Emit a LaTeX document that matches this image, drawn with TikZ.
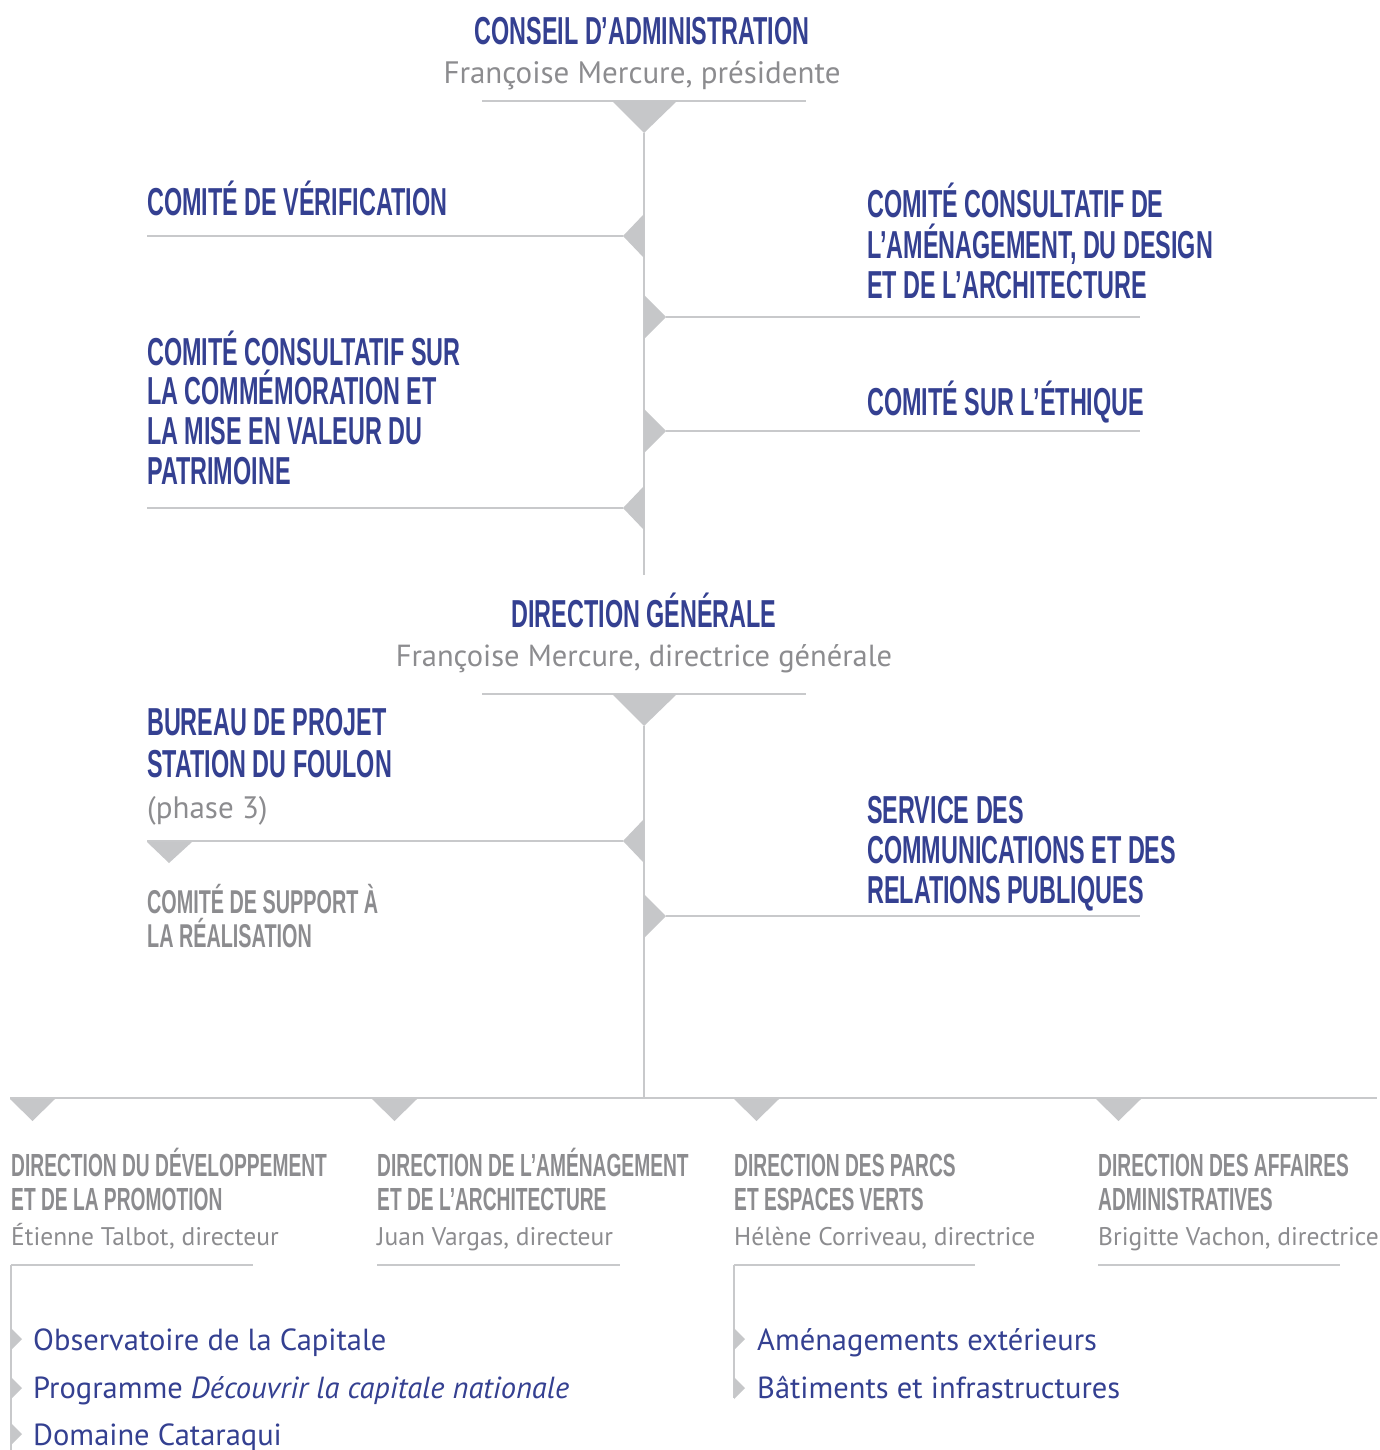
\documentclass[tikz,border=0pt]{standalone}
\usepackage{fontspec}
\newfontfamily\headfont[FakeStretch=0.6]{Liberation Sans}
\newfontfamily\bodyfont{PT Sans}
\definecolor{navy}{RGB}{52,64,145}
\definecolor{txtgray}{RGB}{140,140,143}
\definecolor{linegray}{RGB}{200,201,203}
\definecolor{trigray}{RGB}{198,199,201}
\begin{document}
\begin{tikzpicture}[x=1pt,y=-1pt,
  hdnode/.style={inner sep=0pt, anchor=base west, text=navy, font=\headfont\bfseries\fontsize{39}{42}\selectfont},
  hdcenter/.style={hdnode, anchor=base},
  gsubnode/.style={inner sep=0pt, anchor=base west, text=txtgray, font=\headfont\bfseries\fontsize{32}{34}\selectfont},
  gsubbig/.style={gsubnode, font=\headfont\bfseries\fontsize{33}{35}\selectfont},
  bodytxt/.style={inner sep=0pt, anchor=base west, text=txtgray, font=\bodyfont\fontsize{31}{34}\selectfont},
  bodycenter/.style={bodytxt, anchor=base},
  bodycenter2/.style={bodycenter, font=\bodyfont\fontsize{30.5}{34}\selectfont},
  persname/.style={bodytxt, font=\bodyfont\fontsize{25.5}{30}\selectfont},
  itemtxt/.style={inner sep=0pt, anchor=base west, text=navy, font=\bodyfont\fontsize{30.5}{34}\selectfont},
  ruleline/.style={draw=linegray, line width=1.3pt},
  trifill/.style={fill=trigray}]
\useasboundingbox (0,0) rectangle (1379,1450);

% ---------- Conseil d'administration ----------
\node[hdcenter] (ca) at (642,45) {CONSEIL D’ADMINISTRATION};
\node[bodycenter] (caname) at (642,84) {Françoise Mercure, présidente};
\coordinate (caL) at (482,101);
\coordinate (caR) at (806,101);
\coordinate (caTip) at (644,133);
\draw[ruleline] (caL) -- (caR);
\fill[trifill] (612,101) -- (677,101) -- (caTip) -- cycle;
\coordinate (trunkA) at (644,575);
\draw[ruleline] (caTip) -- (trunkA);

% left committees
\node[hdnode] (verif) at (147,215) {COMITÉ DE VÉRIFICATION};
\coordinate (verifL) at (147,236);
\coordinate (verifT) at (623,236);
\draw[ruleline] (verifL) -- (verifT);
\fill[trifill] (644,214) -- (verifT) -- (644,258) -- cycle;

\node[hdnode] (patr1) at (147,365) {COMITÉ CONSULTATIF SUR};
\node[hdnode] (patr2) at (147,404) {LA COMMÉMORATION ET};
\node[hdnode] (patr3) at (147,444) {LA MISE EN VALEUR DU};
\node[hdnode] (patr4) at (147,484) {PATRIMOINE};
\coordinate (patrL) at (147,508);
\coordinate (patrT) at (623,508);
\draw[ruleline] (patrL) -- (patrT);
\fill[trifill] (644,486) -- (patrT) -- (644,530) -- cycle;

% right committees
\node[hdnode] (amen1) at (867,218) {COMITÉ CONSULTATIF DE};
\node[hdnode] (amen2) at (867,258) {L’AMÉNAGEMENT, DU DESIGN};
\node[hdnode] (amen3) at (867,298) {ET DE L’ARCHITECTURE};
\coordinate (amenT) at (666,317);
\coordinate (amenR) at (1140,317);
\draw[ruleline] (amenT) -- (amenR);
\fill[trifill] (644,295) -- (amenT) -- (644,339) -- cycle;

\node[hdnode] (ethi) at (867,415) {COMITÉ SUR L’ÉTHIQUE};
\coordinate (ethiT) at (666,431);
\coordinate (ethiR) at (1140,431);
\draw[ruleline] (ethiT) -- (ethiR);
\fill[trifill] (644,409) -- (ethiT) -- (644,453) -- cycle;

% ---------- Direction generale ----------
\node[hdcenter] (dg) at (644,627) {DIRECTION GÉNÉRALE};
\node[bodycenter2] (dgname) at (644,666) {Françoise Mercure, directrice générale};
\coordinate (dgL) at (482,694);
\coordinate (dgR) at (806,694);
\coordinate (dgTip) at (644,726);
\draw[ruleline] (dgL) -- (dgR);
\fill[trifill] (612,694) -- (677,694) -- (dgTip) -- cycle;
\coordinate (trunkB) at (644,1098);
\draw[ruleline] (dgTip) -- (trunkB);

\node[hdnode] (bur1) at (147,735) {BUREAU DE PROJET};
\node[hdnode] (bur2) at (147,777) {STATION DU FOULON};
\node[bodytxt] (bur3) at (147,818) {(phase 3)};
\coordinate (burL) at (147,841);
\coordinate (burT) at (623,841);
\draw[ruleline] (burL) -- (burT);
\fill[trifill] (644,819) -- (burT) -- (644,863) -- cycle;
\fill[trifill] (147,842) -- (192,842) -- (169,863) -- cycle;
\node[gsubbig] (sup1) at (147,913) {COMITÉ DE SUPPORT À};
\node[gsubbig] (sup2) at (147,947) {LA RÉALISATION};

\node[hdnode] (com1) at (867,823) {SERVICE DES};
\node[hdnode] (com2) at (867,863) {COMMUNICATIONS ET DES};
\node[hdnode] (com3) at (867,903) {RELATIONS PUBLIQUES};
\coordinate (comT) at (666,916);
\coordinate (comR) at (1140,916);
\draw[ruleline] (comT) -- (comR);
\fill[trifill] (644,894) -- (comT) -- (644,938) -- cycle;

% ---------- Directions ----------
\coordinate (busL) at (10,1098);
\coordinate (busR) at (1377,1098);
\draw[ruleline] (busL) -- (busR);
\foreach \x in {10,372,734,1096}{
  \fill[trifill] (\x,1099) -- (\x+45,1099) -- (\x+22.5,1121) -- cycle;
}

\node[gsubnode] (d1a) at (11,1176) {DIRECTION DU DÉVELOPPEMENT};
\node[gsubnode] (d1b) at (11,1210) {ET DE LA PROMOTION};
\node[persname] (d1n) at (11,1245) {Étienne Talbot, directeur};

\node[gsubnode] (d2a) at (377,1176) {DIRECTION DE L’AMÉNAGEMENT};
\node[gsubnode] (d2b) at (377,1210) {ET DE L’ARCHITECTURE};
\node[persname] (d2n) at (377,1245) {Juan Vargas, directeur};

\node[gsubnode] (d3a) at (734,1176) {DIRECTION DES PARCS};
\node[gsubnode] (d3b) at (734,1210) {ET ESPACES VERTS};
\node[persname] (d3n) at (734,1245) {Hélène Corriveau, directrice};

\node[gsubnode] (d4a) at (1098,1176) {DIRECTION DES AFFAIRES};
\node[gsubnode] (d4b) at (1098,1210) {ADMINISTRATIVES};
\node[persname] (d4n) at (1098,1245) {Brigitte Vachon, directrice};

\coordinate (u1a) at (11,1265);  \coordinate (u1b) at (253,1265);
\coordinate (u2a) at (377,1265); \coordinate (u2b) at (620,1265);
\coordinate (u3a) at (734,1265); \coordinate (u3b) at (975,1265);
\coordinate (u4a) at (1098,1265); \coordinate (u4b) at (1340,1265);
\draw[ruleline] (u1a) -- (u1b);
\draw[ruleline] (u2a) -- (u2b);
\draw[ruleline] (u3a) -- (u3b);
\draw[ruleline] (u4a) -- (u4b);
\coordinate (v1end) at (11,1450);
\coordinate (v3end) at (734,1398);
\draw[ruleline] (u1a) -- (v1end);
\draw[ruleline] (u3a) -- (v3end);

% bullets
\foreach \y in {1339,1388,1434}{
  \fill[trifill] (11,\y-11) -- (22,\y) -- (11,\y+11) -- cycle;
}
\foreach \y in {1339,1388}{
  \fill[trifill] (734,\y-11) -- (745,\y) -- (734,\y+11) -- cycle;
}
\node[itemtxt] (i1) at (33,1350) {Observatoire de la Capitale};
\node[itemtxt] (i2) at (33,1398) {Programme \textit{Découvrir la capitale nationale}};
\node[itemtxt] (i3) at (33,1445) {Domaine Cataraqui};
\node[itemtxt] (i4) at (757,1350) {Aménagements extérieurs};
\node[itemtxt] (i5) at (757,1398) {Bâtiments et infrastructures};
\end{tikzpicture}
\end{document}
